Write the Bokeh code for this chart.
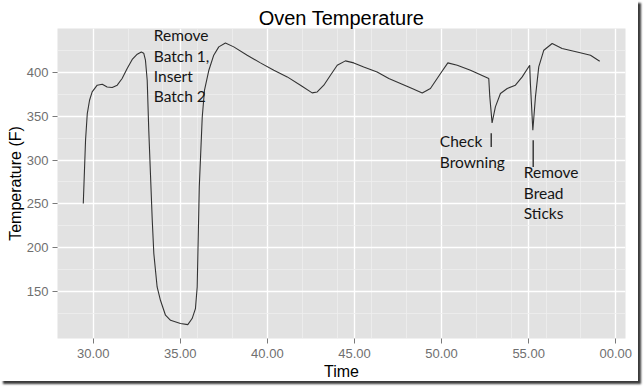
from bokeh.plotting import figure
from bokeh.models import ColumnDataSource, Range1d, FixedTicker, Title, PrintfTickFormatter
from bokeh.core.properties import value
from bokeh.embed import file_html
from bokeh.resources import INLINE

# ---- data (time in minutes, oven temperature in F) ----
time_min = [29.43, 29.56, 29.66, 29.79, 29.94, 30.23, 30.52, 30.80, 31.09, 31.38,
            31.66, 31.95, 32.24, 32.53, 32.76, 32.90, 33.00, 33.10, 33.19, 33.29,
            33.39, 33.48, 33.67, 33.86, 34.15, 34.44, 35.01, 35.43, 35.68, 35.87,
            35.97, 36.03, 36.09, 36.26, 36.39, 36.64, 36.92, 37.21, 37.59, 38.07,
            38.84, 39.60, 40.37, 41.14, 41.90, 42.57, 42.86, 43.24, 43.62, 44.01,
            44.48, 44.96, 45.53, 46.30, 46.97, 47.64, 48.31, 48.89, 49.36, 49.94,
            50.36, 50.90, 51.66, 52.71, 52.77, 52.90, 53.09, 53.38, 53.77, 54.24,
            54.63, 55.06, 55.10, 55.24, 55.39, 55.58, 55.87, 56.35, 56.92, 57.78,
            58.55, 59.08]
temp_f = [250.2, 322.6, 353.1, 368.3, 377.8, 385.5, 386.6, 383.5, 382.9, 385.5,
          393.1, 404.6, 414.9, 420.9, 423.5, 422.1, 414.1, 391.2, 334.0, 282.6,
          231.2, 193.1, 154.9, 139.7, 122.6, 116.8, 113.1, 111.9, 118.8, 130.2,
          154.9, 212.1, 269.2, 349.2, 379.8, 402.6, 419.8, 429.3, 433.8, 429.3,
          419.8, 411.0, 402.6, 395.0, 385.5, 376.7, 377.8, 385.5, 396.9, 408.3,
          413.3, 411.0, 406.4, 400.7, 393.1, 387.4, 381.7, 376.7, 381.7, 398.9,
          411.0, 408.3, 402.6, 393.1, 372.1, 342.4, 360.7, 376.0, 381.7, 385.5,
          395.0, 408.3, 387.4, 334.0, 372.1, 406.4, 425.5, 433.2, 427.4, 423.5,
          419.8, 412.9]

x_major = [30, 35, 40, 45, 50, 55, 60]
x_minor = [32, 34, 36, 38, 42, 44, 46, 48, 52, 54, 56, 58]
y_major = [150, 200, 250, 300, 350, 400]
y_minor = [125, 175, 225, 275, 325, 375, 425]
x_label_override = {60: "00.00"}

ann_text = ["Remove\nBatch 1,\nInsert\nBatch 2", "Check\nBrowning", "Remove\nBread\nSticks"]
ann_x = [33.48, 49.90, 54.72]
ann_y = [452.8, 331.5, 296.3]

seg_x = [52.85, 55.26]
seg_y0 = [330.6, 322.6]
seg_y1 = [315.0, 292.1]

x_range = (27.95, 60.56)
y_range = (96.0, 450.3)

# ---- figure ----
p = figure(width=638, height=381, output_backend="svg", toolbar_location=None,
           title="Oven Temperature",
           x_range=Range1d(*x_range), y_range=Range1d(*y_range),
           min_border_left=57, min_border_right=13, min_border_top=28, min_border_bottom=43)
p.styles = {"box-shadow": "3px 3px 2px #3a3a3a"}

p.title.text_font = "Liberation Sans"
p.title.text_font_size = "20px"
p.title.text_font_style = "normal"
p.title.text_color = "black"
p.title.align = "center"
p.title.offset = -16
p.title.standoff = 0
p.title.text_line_height = 1.0

p.background_fill_color = "#e2e2e2"
p.border_fill_color = "white"
p.outline_line_color = None

p.xaxis.ticker = FixedTicker(ticks=x_major, minor_ticks=x_minor)
p.yaxis.ticker = FixedTicker(ticks=y_major, minor_ticks=y_minor)
p.xaxis.formatter = PrintfTickFormatter(format="%.2f")
p.xaxis.major_label_overrides = x_label_override

for ax in (p.xaxis, p.yaxis):
    ax.axis_line_color = None
    ax.major_tick_line_color = "#7a7a7a"
    ax.major_tick_line_width = 1
    ax.major_tick_out = 5
    ax.major_tick_in = 0
    ax.minor_tick_line_color = None
    ax.major_label_text_font = "Liberation Sans"
    ax.major_label_text_font_size = "13px"
    ax.major_label_text_color = "#6f6f6f"
p.xaxis.major_label_standoff = 5
p.yaxis.major_label_standoff = 4

p.grid.grid_line_color = "white"
p.grid.grid_line_width = 1.4
p.grid.minor_grid_line_color = "#efefef"
p.grid.minor_grid_line_width = 0.8

src = ColumnDataSource(dict(x=time_min, y=temp_f))
p.line("x", "y", source=src, line_color="#333333", line_width=1.1)

seg_src = ColumnDataSource(dict(x0=seg_x, y0=seg_y0, x1=seg_x, y1=seg_y1))
p.segment(x0="x0", y0="y0", x1="x1", y1="y1", source=seg_src,
          line_color="#222222", line_width=1.3)

ann_src = ColumnDataSource(dict(x=ann_x, y=ann_y, text=ann_text))
p.text(x="x", y="y", text="text", source=ann_src,
       text_font=value("Lato"), text_font_size=value("15.5px"),
       text_baseline="top", text_align="left", text_line_height=1.13,
       text_color="#151515")

# axis titles, centred on the whole picture as in the reference
x_title = Title(text="Time", align="center", offset=-16, standoff=0,
                text_font="Liberation Sans", text_font_size="16px",
                text_font_style="normal", text_color="black", text_line_height=1.0)
y_title = Title(text="Temperature (F)", align="center", offset=-11, standoff=0,
                text_font="Liberation Sans", text_font_size="16px",
                text_font_style="normal", text_color="black", text_line_height=1.0)
p.add_layout(x_title, "below")
p.add_layout(y_title, "left")

open("out.html", "w").write(file_html(p, INLINE))
